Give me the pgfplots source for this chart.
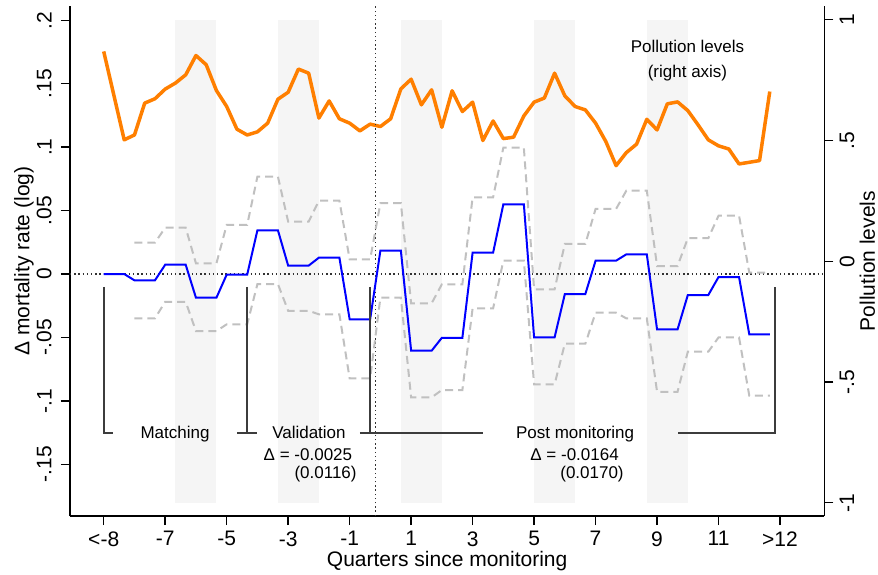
\documentclass[border=0pt]{standalone}
\usepackage{pgfplots}
\pgfplotsset{compat=1.18}
\usepackage{pgfplotstable}
\usepackage{fontspec}
\setmainfont{Liberation Sans}

\definecolor{stOrange}{RGB}{255,127,0}
\definecolor{stBlue}{RGB}{0,0,255}
\definecolor{ciGray}{RGB}{192,192,192}
\definecolor{bandGray}{RGB}{245,245,245}
\definecolor{brkGray}{RGB}{60,60,60}
\definecolor{refGray}{RGB}{50,50,50}

% pollution levels (right axis), monthly index k (k=0 is "<-8")
\pgfplotstableread{
k poll
0 0.869
2 0.503
3 0.523
4 0.655
5 0.673
6 0.713
7 0.738
8 0.772
9 0.852
10 0.814
11 0.707
12 0.641
13 0.547
14 0.523
15 0.536
16 0.572
17 0.671
18 0.700
19 0.796
20 0.779
21 0.593
22 0.664
23 0.590
24 0.572
25 0.540
26 0.568
27 0.558
28 0.590
29 0.714
30 0.754
31 0.648
32 0.710
33 0.555
34 0.706
35 0.620
36 0.659
37 0.500
38 0.581
39 0.508
40 0.514
41 0.602
42 0.659
43 0.676
44 0.779
45 0.685
46 0.641
47 0.627
48 0.572
49 0.496
50 0.396
51 0.450
52 0.485
53 0.588
54 0.544
55 0.652
56 0.660
57 0.624
58 0.565
59 0.503
60 0.478
61 0.465
62 0.403
64 0.417
65 0.703
}\pollution

% mortality estimates and confidence bounds (left axis)
\pgfplotstableread{
k est hi lo
0 0 nan nan
1 0 nan nan
2 0 nan nan
3 -0.0050 0.0247 -0.0350
4 -0.0050 0.0247 -0.0350
5 -0.0050 0.0247 -0.0350
6 0.0073 0.0365 -0.0219
7 0.0073 0.0365 -0.0219
8 0.0073 0.0365 -0.0219
9 -0.0187 0.0084 -0.0450
10 -0.0187 0.0084 -0.0450
11 -0.0187 0.0084 -0.0450
12 -0.0005 0.0387 -0.0397
13 -0.0005 0.0387 -0.0397
14 -0.0005 0.0387 -0.0397
15 0.0345 0.0768 -0.0079
16 0.0345 0.0768 -0.0079
17 0.0345 0.0768 -0.0079
18 0.0066 0.0413 -0.0290
19 0.0066 0.0413 -0.0290
20 0.0066 0.0413 -0.0290
21 0.0129 0.0578 -0.0318
22 0.0129 0.0578 -0.0318
23 0.0129 0.0578 -0.0318
24 -0.0357 0.0116 -0.0823
25 -0.0357 0.0116 -0.0823
26 -0.0357 0.0116 -0.0823
27 0.0184 0.0558 -0.0187
28 0.0184 0.0558 -0.0187
29 0.0184 0.0558 -0.0187
30 -0.0605 -0.0231 -0.0973
31 -0.0605 -0.0231 -0.0973
32 -0.0605 -0.0231 -0.0973
33 -0.0503 -0.0081 -0.0915
34 -0.0503 -0.0081 -0.0915
35 -0.0503 -0.0081 -0.0915
36 0.0168 0.0605 -0.0271
37 0.0168 0.0605 -0.0271
38 0.0168 0.0605 -0.0271
39 0.0550 0.0997 0.0105
40 0.0550 0.0997 0.0105
41 0.0550 0.0997 0.0105
42 -0.0500 -0.0121 -0.0870
43 -0.0500 -0.0121 -0.0870
44 -0.0500 -0.0121 -0.0870
45 -0.0158 0.0237 -0.0550
46 -0.0158 0.0237 -0.0550
47 -0.0158 0.0237 -0.0550
48 0.0105 0.0513 -0.0305
49 0.0105 0.0513 -0.0305
50 0.0105 0.0513 -0.0305
51 0.0155 0.0657 -0.0350
52 0.0155 0.0657 -0.0350
53 0.0155 0.0657 -0.0350
54 -0.0437 0.0063 -0.0929
55 -0.0437 0.0063 -0.0929
56 -0.0437 0.0063 -0.0929
57 -0.0166 0.0282 -0.0613
58 -0.0166 0.0282 -0.0613
59 -0.0166 0.0282 -0.0613
60 -0.0024 0.0460 -0.0500
61 -0.0024 0.0460 -0.0500
62 -0.0024 0.0460 -0.0500
63 -0.0476 0.0010 -0.0960
64 -0.0476 0.0010 -0.0960
65 -0.0476 0.0010 -0.0960
}\estimates

\pgfplotsset{
  common/.style={
    scale only axis, width=377.15pt, height=255pt,
    xmin=-3.29, xmax=70.32,
    tick align=outside, major tick length=4.5pt,
    every tick/.style={black, line width=0.7pt},
    axis line style={black, line width=0.7pt},
    ticklabel style={font=\fontsize{10.5}{12}\selectfont, inner sep=0pt},
    label style={font=\fontsize{10.5}{12}\selectfont},
  },
}

\begin{document}
\begin{tikzpicture}
\useasboundingbox (-35pt,-29pt) rectangle (404pt,258pt);

% right axis: shaded quarters and pollution levels
\begin{axis}[common,
  ymin=-1.0547, ymax=1.0571,
  axis x line=none, axis y line*=right,
  ytick={-1,-0.5,0,0.5,1}, yticklabels={-1,-.5,0,.5,1},
  yticklabel style={rotate=90, anchor=north},
  yticklabel shift=3pt,
  ylabel={Pollution levels},
  ylabel style={at={(axis description cs:1.0672,0.5)}, anchor=base, rotate=0},
]
\addplot[fill=bandGray, draw=none] coordinates {(7,-1) (11,-1) (11,1) (7,1)};
\addplot[fill=bandGray, draw=none] coordinates {(17,-1) (21,-1) (21,1) (17,1)};
\addplot[fill=bandGray, draw=none] coordinates {(29,-1) (33,-1) (33,1) (29,1)};
\addplot[fill=bandGray, draw=none] coordinates {(42,-1) (46,-1) (46,1) (42,1)};
\addplot[fill=bandGray, draw=none] coordinates {(53,-1) (57,-1) (57,1) (53,1)};
\addplot[stOrange, line width=1.75pt, line join=round] table[x=k, y=poll] {\pollution};
\node[anchor=base, font=\fontsize{8.5}{10}\selectfont] at (axis cs:56.97,0.866) {Pollution levels};
\node[anchor=base, font=\fontsize{8.5}{10}\selectfont] at (axis cs:56.97,0.759) {(right axis)};
\end{axis}

% left axis: mortality estimates
\begin{axis}[common,
  ymin=-0.19085, ymax=0.21136,
  axis x line*=bottom, axis y line*=left,
  clip=false,
  xtick={0,6,...,66},
  xticklabels={<-8,-7,-5,-3,-1,1,3,5,7,9,11,>12},
  xticklabel style={anchor=north},
  xticklabel shift=3pt,
  ytick={-0.15,-0.1,-0.05,0,0.05,0.1,0.15,0.2},
  yticklabels={-.15,-.1,-.05,0,.05,.1,.15,.2},
  yticklabel style={rotate=90, anchor=south},
  yticklabel shift=4.5pt,
  xlabel={Quarters since monitoring},
  xlabel style={at={(axis description cs:0.5,-0.0994)}, anchor=base},
  ylabel={Δ mortality rate (log)},
  ylabel style={at={(axis description cs:-0.054,0.5)}, anchor=base},
]
\addplot[refGray, line width=0.7pt, dash pattern=on 0.7pt off 1.4pt] coordinates {(-3.29,0) (70.32,0)};
\addplot[refGray, line width=0.7pt, dash pattern=on 0.7pt off 1.4pt] coordinates {(26.5,-0.19085) (26.5,0.21136)};
\addplot[ciGray, line width=1pt, dash pattern=on 4pt off 2.5pt] table[x=k, y=hi] {\estimates};
\addplot[ciGray, line width=1pt, dash pattern=on 4pt off 2.5pt] table[x=k, y=lo] {\estimates};
\addplot[stBlue, line width=1pt] table[x=k, y=est] {\estimates};

% period brackets
\addplot[brkGray, line width=0.9pt] coordinates {(0,-0.01025) (0,-0.1251) (0.94,-0.1251)};
\addplot[brkGray, line width=0.9pt] coordinates {(13.04,-0.1251) (14.93,-0.1251)};
\addplot[brkGray, line width=0.9pt] coordinates {(13.98,-0.01025) (13.98,-0.1251)};
\addplot[brkGray, line width=0.9pt] coordinates {(25.01,-0.1251) (36.99,-0.1251)};
\addplot[brkGray, line width=0.9pt] coordinates {(25.99,-0.01025) (25.99,-0.1251)};
\addplot[brkGray, line width=0.9pt] coordinates {(56.07,-0.1251) (65.51,-0.1251) (65.51,-0.01025)};

\begin{scope}[every node/.style={anchor=base, font=\fontsize{8.5}{10}\selectfont}]
\node at (axis cs:6.96,-0.1301) {Matching};
\node at (axis cs:20.03,-0.1301) {Validation};
\node at (axis cs:19.93,-0.1470) {Δ = -0.0025};
\node at (axis cs:21.65,-0.1615) {(0.0116)};
\node at (axis cs:46.0,-0.1301) {Post monitoring};
\node at (axis cs:45.95,-0.1470) {Δ = -0.0164};
\node at (axis cs:47.65,-0.1615) {(0.0170)};
\end{scope}
\end{axis}
\end{tikzpicture}
\end{document}
